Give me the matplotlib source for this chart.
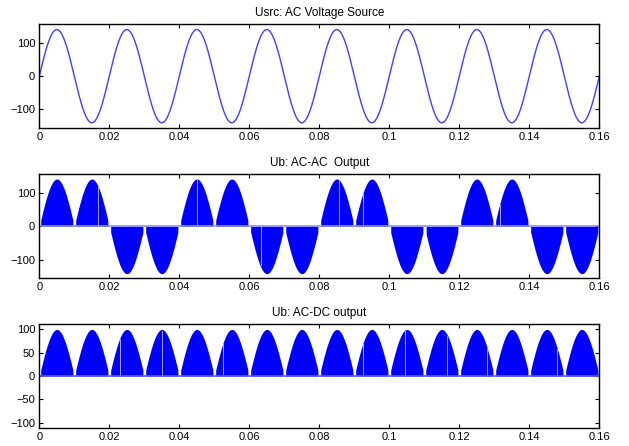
import numpy as np
import matplotlib
matplotlib.use("Agg")
import matplotlib.pyplot as plt

plt.rcParams['font.family'] = ['Liberation Sans', 'DejaVu Sans']

# ---- data ----
titles = ["Usrc: AC Voltage Source", "Ub: AC-AC  Output", "Ub: AC-DC output"]
half_period = 0.01          # s, 50 Hz source
dead_band = 0.0004          # s, no pulses this close to a zero crossing
# source: peak of each half-cycle (signed)
src_peaks = [141, -141, 141, -141, 141, -141, 141, -141,
             141, -141, 141, -141, 141, -141, 141, -141]
# AC-AC output: signed peak of each half-cycle
acac_peaks = [141, 141, -141, -141, 141, 141, -141, -141,
              141, 141, -141, -141, 141, 141, -141, -141]
# AC-DC output: peak of each half-cycle
acdc_peaks = [100, 100, 100, 100, 100, 100, 100, 100,
              100, 100, 100, 100, 100, 100, 100, 100]
xticks = [0, 0.02, 0.04, 0.06, 0.08, 0.1, 0.12, 0.14, 0.16]
xtick_labels = ["0", "0.02", "0.04", "0.06", "0.08", "0.1", "0.12", "0.14", "0.16"]
yticks_top = [-100, 0, 100]
yticks_mid = [-100, 0, 100]
yticks_bot = [-100, -50, 0, 50, 100]
ylim_top = (-156, 157)
ylim_mid = (-153, 155)
ylim_bot = (-111, 111)
# thin light glitches inside the chopped waveforms (s)
acac_gaps = [0.0167, 0.045, 0.0632, 0.0855, 0.0925, 0.1105, 0.1315]
acdc_gaps = [0.023, 0.035, 0.0525, 0.0925, 0.1045, 0.1165, 0.128, 0.148]

t = np.linspace(0, 0.16, 16001)
idx = np.minimum((t / half_period).astype(int), len(src_peaks) - 1)
shape = np.abs(np.sin(np.pi * t / half_period))
phase = t - idx * half_period
gate = (phase > dead_band) & (phase < half_period - dead_band)

def envelope(peaks):
    return np.asarray(peaks, dtype=float)[idx] * shape

fig = plt.figure(figsize=(6.29, 4.46), dpi=100)
L, R = 39.3 / 629, 599.3 / 629
boxes = [(24.3, 127.7), (174.3, 277.7), (324.3, 427.7)]
axes = []
for (top, bot) in boxes:
    ax = fig.add_axes([L, 1 - bot / 446, R - L, (bot - top) / 446])
    axes.append(ax)

blue = (0, 0, 1)

# top: source
ax = axes[0]
ax.plot(t, envelope(src_peaks), color=(0.25, 0.25, 1.0), lw=1.0)
ax.set_ylim(*ylim_top)
ax.set_yticks(yticks_top)

def chopped(ax, peaks, gaps, zero_col):
    env = envelope(peaks) * gate
    ax.fill_between(t, 0, env, color=blue, lw=0)
    for g in gaps:
        k = min(int(g / half_period), 15)
        v = peaks[k] * abs(np.sin(np.pi * g / half_period)) * 0.97
        ax.plot([g, g], [0, v], color=(0.75, 0.75, 1.0), lw=0.6)
    ax.axhline(0, color=zero_col, lw=1.2)

chopped(axes[1], acac_peaks, acac_gaps, (0.55, 0.55, 1.0))
axes[1].set_ylim(*ylim_mid)
axes[1].set_yticks(yticks_mid)

chopped(axes[2], acdc_peaks, acdc_gaps, (0.35, 0.35, 1.0))
axes[2].set_ylim(*ylim_bot)
axes[2].set_yticks(yticks_bot)

for ax, title in zip(axes, titles):
    ax.set_xlim(0, 0.16)
    ax.set_xticks(xticks)
    ax.set_xticklabels(xtick_labels)
    ax.set_title(title, fontsize=8.5, pad=6)
    ax.tick_params(direction='in', length=3, width=0.8, labelsize=8,
                   top=True, right=True, pad=3, colors='black')
    for s in ax.spines.values():
        s.set_linewidth(1.0)

fig.savefig("out.png", dpi=100)
